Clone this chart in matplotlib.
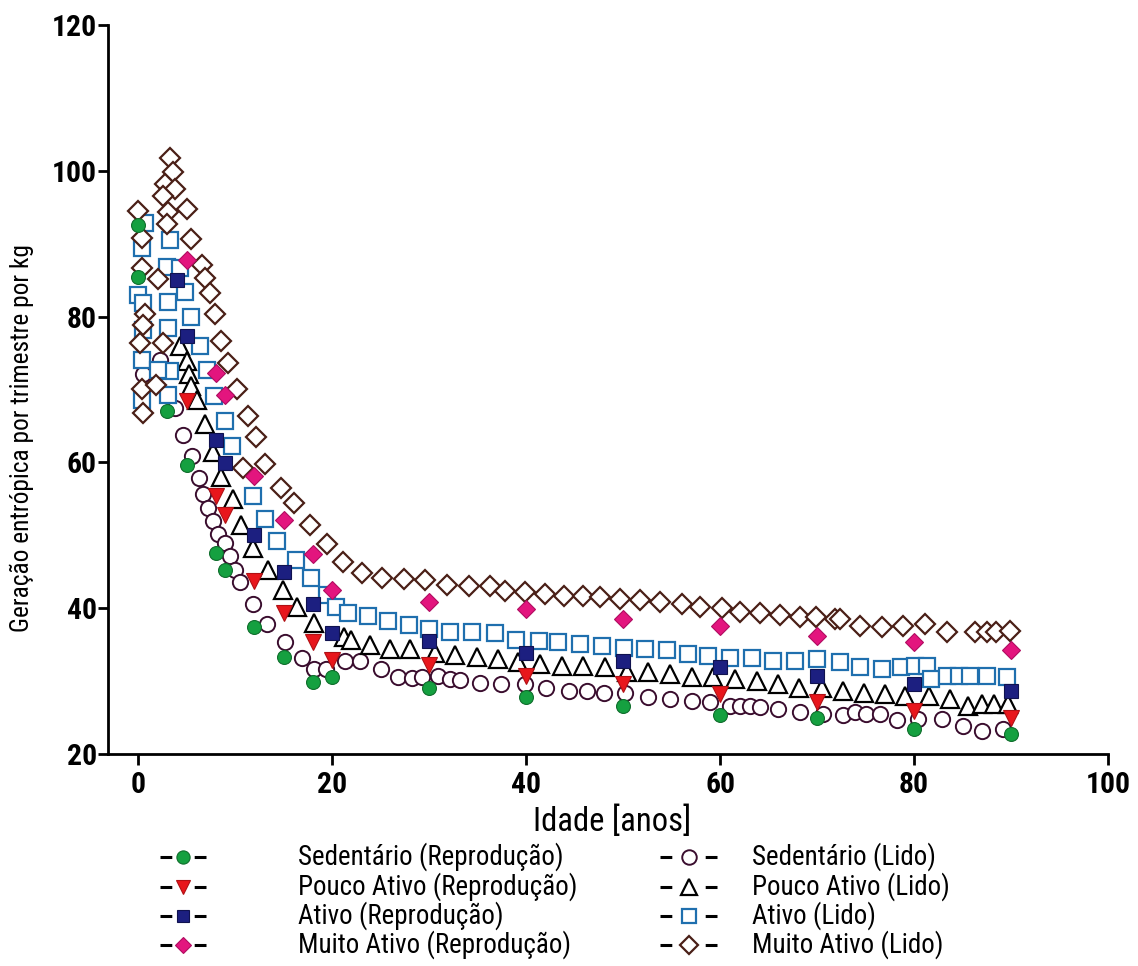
import matplotlib
matplotlib.use('Agg')
import matplotlib.pyplot as plt
from matplotlib.lines import Line2D
from matplotlib import font_manager

names = {f.name for f in font_manager.fontManager.ttflist}
FONT = 'DejaVu Sans'
for cand in ['Liberation Sans Narrow', 'Arial Narrow', 'Roboto Condensed',
             'Archivo Narrow', 'PT Sans Narrow']:
    if cand in names:
        FONT = cand
        break
plt.rcParams['font.family'] = [FONT, 'DejaVu Sans']
plt.rcParams['lines.scale_dashes'] = False

# ---------------- data ----------------
labels_rep = ['Sedentário (Reprodução)', 'Pouco Ativo (Reprodução)',
              'Ativo (Reprodução)', 'Muito Ativo (Reprodução)']
labels_lido = ['Sedentário (Lido)', 'Pouco Ativo (Lido)',
               'Ativo (Lido)', 'Muito Ativo (Lido)']

sed_rep_x = [0, 0, 3, 5, 8, 9, 12, 15, 18, 20, 30, 40, 50, 60, 70, 80, 90]
sed_rep_y = [92.5, 85.5, 67.0, 59.6, 47.6, 45.3, 37.4, 33.3, 29.9, 30.6, 29.0,
             27.8, 26.6, 25.3, 25.0, 23.4, 22.7]

pouco_rep_x = [5, 8, 9, 12, 15, 18, 20, 30, 40, 50, 60, 70, 80, 90]
pouco_rep_y = [68.4, 55.4, 52.8, 43.7, 39.3, 35.4, 32.9, 32.2, 30.7, 29.6, 28.2,
               27.1, 25.9, 25.0]

ativo_rep_x = [4, 5, 8, 9, 12, 15, 18, 20, 30, 40, 50, 60, 70, 80, 90]
ativo_rep_y = [85.0, 77.3, 63.1, 59.9, 50.1, 45.0, 40.6, 36.6, 35.5, 33.9, 32.8,
               31.9, 30.7, 29.6, 28.7]

muito_rep_x = [5, 8, 9, 12, 15, 18, 20, 30, 40, 50, 60, 70, 80, 90]
muito_rep_y = [87.8, 72.3, 69.2, 58.1, 52.1, 47.5, 42.5, 40.9, 39.9, 38.5, 37.6,
               36.2, 35.3, 34.2]

sed_lido_x = [0.5, 2.3, 3.8, 4.6, 5.6, 6.3, 6.7, 7.2, 7.7, 8.2, 9.0, 9.5, 10.0,
              10.5, 11.9, 13.3, 15.1, 16.9, 18.1, 19.4, 21.3, 22.9, 25.0, 26.8,
              28.2, 29.3, 30.9, 32.2, 33.2, 35.3, 37.4, 39.9, 42.1, 44.4, 46.3,
              48.0, 50.2, 52.6, 54.8, 57.1, 59.0, 61.0, 62.1, 63.1, 64.1, 66.0,
              68.2, 70.6, 72.7, 73.9, 75.1, 76.5, 78.2, 80.4, 82.9, 85.1, 87.0,
              89.2]
sed_lido_y = [72.1, 74.1, 67.5, 63.8, 60.9, 57.9, 55.6, 53.8, 52.0, 50.2, 48.9,
              47.1, 45.3, 43.6, 40.6, 37.9, 35.4, 33.2, 31.7, 31.6, 32.7, 32.7,
              31.7, 30.6, 30.4, 30.5, 30.7, 30.3, 30.1, 29.8, 29.6, 29.6, 29.1,
              28.7, 28.7, 28.4, 28.4, 27.8, 27.5, 27.3, 27.1, 26.6, 26.6, 26.6,
              26.4, 26.2, 25.8, 25.5, 25.3, 25.7, 25.5, 25.5, 24.6, 24.8, 24.8,
              23.9, 23.2, 23.4]

pouco_lido_x = [4.3, 5.0, 5.2, 5.5, 6.1, 6.9, 7.7, 8.6, 9.8, 10.6, 11.9, 13.4,
                14.9, 16.4, 18.1, 21.2, 22.0, 23.9, 26.0, 28.0, 30.6, 32.7, 34.9,
                37.1, 39.2, 41.4, 43.7, 45.9, 48.1, 50.4, 52.6, 54.8, 57.1, 59.3,
                61.5, 63.8, 66.0, 68.1, 70.5, 72.7, 74.8, 77.0, 79.1, 81.5, 83.7,
                85.6, 87.0, 88.2, 89.7]
pouco_lido_y = [76.0, 73.9, 72.1, 70.5, 68.6, 65.3, 61.4, 58.0, 55.0, 51.4, 48.2,
                45.2, 42.5, 40.1, 38.0, 36.0, 35.6, 35.0, 34.4, 34.4, 33.8, 33.6,
                33.3, 33.1, 32.6, 32.3, 32.1, 32.1, 31.9, 31.2, 31.2, 31.0, 30.5,
                30.5, 30.3, 30.0, 29.6, 29.1, 29.1, 28.7, 28.4, 28.2, 28.0, 28.0,
                27.5, 26.6, 26.8, 26.8, 26.8]

ativo_lido_x = [0.7, 0.4, 0.0, 0.5, 0.5, 0.4, 0.4, 3.3, 3.0, 3.1, 3.1, 3.3, 3.1,
                2.1, 4.3, 4.8, 5.5, 6.4, 7.1, 7.8, 9.0, 9.7, 11.9, 13.1, 14.3,
                16.3, 17.8, 19.5, 20.4, 21.6, 23.7, 25.8, 27.9, 30.0, 32.2, 34.4,
                36.8, 39.0, 41.3, 43.3, 45.6, 47.8, 50.1, 52.3, 54.5, 56.7, 58.8,
                61.0, 63.3, 65.5, 67.7, 70.0, 72.4, 74.4, 76.7, 78.7, 80.1, 81.3,
                81.8, 83.4, 84.6, 85.8, 87.5, 89.6]
ativo_lido_y = [92.8, 89.4, 82.9, 81.8, 78.2, 74.1, 68.6, 90.5, 86.8, 82.0, 78.4,
                72.5, 69.3, 72.7, 86.6, 83.4, 80.0, 76.0, 72.7, 69.1, 65.7, 62.2,
                55.4, 52.2, 49.2, 46.6, 44.2, 41.8, 40.1, 39.4, 38.9, 38.2, 37.7,
                37.2, 36.7, 36.7, 36.6, 35.7, 35.5, 35.3, 35.1, 34.8, 34.6, 34.4,
                34.2, 33.7, 33.5, 33.2, 33.2, 32.8, 32.8, 33.0, 32.6, 31.9, 31.7,
                31.9, 32.1, 32.1, 30.3, 30.7, 30.7, 30.7, 30.7, 30.5]

muito_lido_x = [0.0, 0.4, 0.4, 0.7, 0.5, 0.2, 0.4, 0.5, 1.9, 2.6, 2.1, 3.3, 3.6,
                2.8, 3.8, 2.6, 3.1, 3.0, 5.0, 5.5, 6.6, 6.9, 7.4, 7.9, 8.5, 9.3,
                10.2, 10.8, 11.3, 12.2, 13.1, 14.7, 16.1, 17.7, 19.5, 21.1, 23.1,
                25.1, 27.4, 29.6, 31.8, 34.1, 36.3, 37.8, 39.9, 42.0, 43.9, 45.9,
                47.6, 49.7, 51.8, 53.8, 56.1, 57.9, 60.2, 62.1, 64.1, 66.2, 68.2,
                69.9, 71.9, 72.4, 74.4, 76.7, 78.9, 81.1, 83.4, 86.3, 87.5, 88.5,
                89.9]
muito_lido_y = [94.5, 90.8, 86.7, 80.3, 78.8, 76.4, 70.0, 66.8, 70.6, 76.4, 85.1,
                101.8, 99.9, 98.2, 97.5, 96.6, 94.3, 92.7, 94.8, 90.6, 87.1, 85.3,
                83.2, 80.4, 76.7, 73.6, 70.1, 59.2, 66.3, 63.5, 59.8, 56.5, 54.4,
                51.4, 48.8, 46.4, 44.8, 44.2, 44.0, 43.9, 43.2, 43.1, 43.0, 42.4,
                42.2, 42.0, 41.7, 41.7, 41.5, 41.3, 41.1, 40.8, 40.6, 40.2, 40.0,
                39.5, 39.3, 39.1, 38.8, 38.8, 38.5, 38.5, 37.6, 37.4, 37.6, 37.8,
                36.7, 36.7, 36.7, 36.7, 36.9]

x_ticks = [0, 20, 40, 60, 80, 100]
y_ticks = [20, 40, 60, 80, 100, 120]

# ---------------- styles ----------------
st_lido = [
    dict(marker='o', ms=11, mfc='white', mec='#3a0d2e', mew=1.4),
    dict(marker='^', ms=12.5, mfc='white', mec='black', mew=1.6),
    dict(marker='s', ms=11, mfc='white', mec='#1f6fae', mew=1.6),
    dict(marker='D', ms=10, mfc='white', mec='#4a1f17', mew=1.6),
]
st_rep = [
    dict(marker='o', ms=10, mfc='#15a040', mec='#0f6e2c', mew=0.8),
    dict(marker='v', ms=11, mfc='#e8161c', mec='#b01014', mew=0.8),
    dict(marker='s', ms=9.5, mfc='#1c1f80', mec='#10124f', mew=0.8),
    dict(marker='D', ms=9, mfc='#e3157e', mec='#b00c60', mew=0.8),
]

W, H = 1138, 966
fig = plt.figure(figsize=(W / 100, H / 100), dpi=100)
ax = fig.add_axes([108 / W, 1 - 754 / H, 1000 / W, 729 / H])
renderer = fig.canvas.get_renderer()


def px_box(s, size, weight='normal', rot=False):
    t = fig.text(0, 0, s, fontsize=size, fontweight=weight,
                 rotation=90 if rot else 0)
    bb = t.get_window_extent(renderer)
    t.remove()
    return bb


def fit_size(s, target, weight='normal', rot=False):
    bb = px_box(s, 20, weight, rot)
    return 20 * target / (bb.height if rot else bb.width)


def fit_height(s, target, weight='normal'):
    bb = px_box(s, 20, weight)
    return 20 * target / bb.height


tick_fs = fit_size('100', 45, 'bold')
xlab_fs = fit_size('Idade [anos]', 158)
ylab_fs = fit_size('Geração entrópica por trimestre por kg', 387, rot=True)
leg_fs = min(fit_size('Sedentário (Reprodução)', 319),
             fit_height('Pouco Ativo (Reprodução)', 28.0))

lido = [(sed_lido_x, sed_lido_y), (pouco_lido_x, pouco_lido_y),
        (ativo_lido_x, ativo_lido_y), (muito_lido_x, muito_lido_y)]
rep = [(sed_rep_x, sed_rep_y), (pouco_rep_x, pouco_rep_y),
       (ativo_rep_x, ativo_rep_y), (muito_rep_x, muito_rep_y)]

for (xs, ys), st in zip(lido, st_lido):
    ax.plot(xs, ys, linestyle='none', zorder=2, **st)
for (xs, ys), st in zip(rep, st_rep):
    ax.plot(xs, ys, linestyle='none', zorder=3, **st)

ax.set_xlim(-3.1, 100)
ax.set_ylim(20, 120)
ax.set_xticks(x_ticks)
ax.set_yticks(y_ticks)
for s in ['top', 'right']:
    ax.spines[s].set_visible(False)
for s in ['left', 'bottom']:
    ax.spines[s].set_linewidth(2.0)
ax.tick_params(axis='y', direction='out', length=7, width=2.0, pad=1,
               labelsize=tick_fs)
ax.tick_params(axis='x', direction='out', length=8, width=2.0, pad=4,
               labelsize=tick_fs)
for lab in ax.get_xticklabels() + ax.get_yticklabels():
    lab.set_fontweight('bold')

ax.set_xlabel('Idade [anos]', fontsize=xlab_fs)
ax.xaxis.set_label_coords((612 - 108) / 1000, (754 - 822) / 729)
ax.xaxis.label.set_va('center')
ax.set_ylabel('Geração entrópica por trimestre por kg', fontsize=ylab_fs)
ax.yaxis.set_label_coords((22 - 108) / 1000, (754 - 438) / 729)
ax.yaxis.label.set_va('center')

# legend: two columns, drawn as proxy lines with labels
rows_y = [857, 887, 916, 945]
cols = [(160, 206, 298, st_rep, labels_rep),
        (660, 717, 752, st_lido, labels_lido)]
for x0, x1, xt, styles, labs in cols:
    for yy, st, lab in zip(rows_y, styles, labs):
        ln = Line2D([x0 / W, (x0 + x1) / 2 / W, x1 / W], [1 - yy / H] * 3,
                    transform=fig.transFigure, color='black', lw=2.2,
                    dashes=(8.5, (x1 - x0 - 2 * 11.8) / 1.389, 8.5, 100),
                    markevery=[1], **dict(st, ms=st['ms'] * 0.95))
        fig.add_artist(ln)
        fig.text(xt / W, 1 - yy / H, lab, fontsize=leg_fs, va='center',
                 ha='left')

fig.savefig('out.png', dpi=100)
